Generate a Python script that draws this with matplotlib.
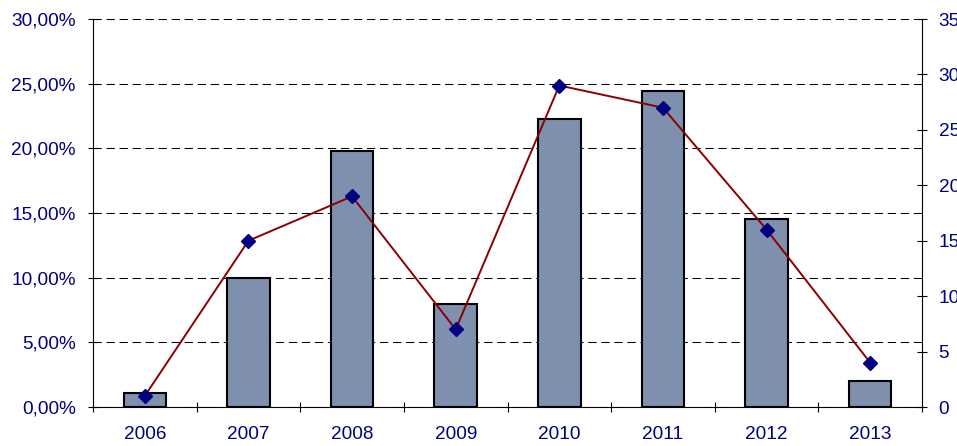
import matplotlib
matplotlib.use("Agg")
import matplotlib.pyplot as plt
import numpy as np
from matplotlib.ticker import FuncFormatter, FixedLocator

plt.rcParams['font.family'] = ['Liberation Sans', 'DejaVu Sans']

years = ["2006", "2007", "2008", "2009", "2010", "2011", "2012", "2013"]
bar_pct = [1.1, 9.95, 19.8, 8.0, 22.3, 24.4, 14.5, 2.0]
line_vals = [1, 15, 19, 7, 29, 27, 16, 4]
left_ticks = [0, 5, 10, 15, 20, 25, 30]
right_ticks = [0, 5, 10, 15, 20, 25, 30, 35]

navy = '#000080'
fig = plt.figure(figsize=(9.57, 4.46), dpi=100)
ax = fig.add_axes([93/957, 1-407/446, (922-93)/957, (407-19)/446])
x = np.arange(len(years))

ax.bar(x, bar_pct, width=0.41, color='#7F8FAE', edgecolor='black', linewidth=1.5, zorder=2)
ax.set_xlim(-0.5, len(years)-0.5)
ax.set_ylim(0, 30)
ax.set_yticks(left_ticks)
ax.yaxis.set_major_formatter(FuncFormatter(lambda v, p: f"{v:.2f}".replace('.', ',') + '%'))
ax.set_axisbelow(True)
ax.grid(axis='y', color='black', linewidth=0.75, linestyle=(0, (8, 4.5)))
ax.set_xticks(x)
ax.set_xticklabels(years)
ax.xaxis.set_minor_locator(FixedLocator(np.arange(-0.5, len(years), 1.0)))
ax.tick_params(axis='x', which='major', length=0, pad=14, labelsize=13.7, labelcolor=navy)
ax.tick_params(axis='x', which='minor', direction='inout', length=7, width=0.8)
ax.tick_params(axis='y', direction='inout', length=7, width=0.8, pad=9, labelsize=13.7, labelcolor=navy)
ax.spines['top'].set_visible(False)
ax.spines['right'].set_visible(False)
ax.spines['left'].set_linewidth(0.8)
ax.spines['bottom'].set_linewidth(0.8)

ax2 = ax.twinx()
ax2.plot(x, line_vals, color='#8B0000', linewidth=1.4, marker='D', markersize=7,
         markerfacecolor=navy, markeredgecolor=navy, zorder=3)
ax2.set_ylim(0, 35)
ax2.set_yticks(right_ticks)
ax2.tick_params(axis='y', direction='inout', length=7, width=0.8, pad=8.5, labelsize=13.7, labelcolor=navy)
ax2.spines['top'].set_visible(False)
ax2.spines['left'].set_visible(False)
ax2.spines['bottom'].set_visible(False)
ax2.spines['right'].set_linewidth(0.8)

fig.savefig('out.png', dpi=100)
